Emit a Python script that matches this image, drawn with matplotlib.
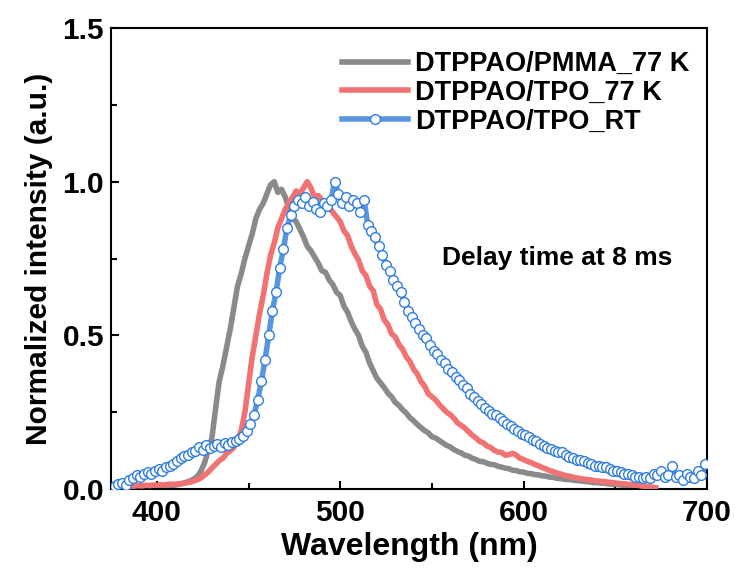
import numpy as np
import matplotlib
matplotlib.use("Agg")
import matplotlib.pyplot as plt

plt.rcParams['font.family'] = ['Liberation Sans', 'DejaVu Sans']
plt.rcParams['font.weight'] = 'bold'

# ---- data ----
wl_pmma = np.arange(380, 662, 2)
int_pmma = [0.004, 0.005, 0.004, 0.006, 0.005, 0.006, 0.007, 0.006, 0.008, 0.007,
            0.009, 0.008, 0.010, 0.011, 0.010, 0.013, 0.015, 0.018, 0.022, 0.026,
            0.032, 0.040, 0.058, 0.085, 0.125, 0.165, 0.260, 0.350, 0.400, 0.460,
            0.520, 0.590, 0.660, 0.700, 0.750, 0.790, 0.830, 0.880, 0.910, 0.930,
            0.960, 0.990, 1.000, 0.965, 0.975, 0.950, 0.915, 0.880, 0.870, 0.845,
            0.820, 0.790, 0.775, 0.755, 0.735, 0.710, 0.705, 0.680, 0.665, 0.640,
            0.630, 0.595, 0.575, 0.545, 0.520, 0.500, 0.465, 0.445, 0.410, 0.385,
            0.360, 0.345, 0.330, 0.312, 0.300, 0.282, 0.272, 0.258, 0.247, 0.232,
            0.222, 0.210, 0.200, 0.190, 0.183, 0.170, 0.166, 0.158, 0.150, 0.142,
            0.137, 0.128, 0.122, 0.117, 0.110, 0.107, 0.100, 0.096, 0.090, 0.089,
            0.084, 0.080, 0.079, 0.074, 0.071, 0.068, 0.066, 0.061, 0.060, 0.056,
            0.055, 0.051, 0.050, 0.047, 0.046, 0.043, 0.042, 0.039, 0.038, 0.035,
            0.034, 0.032, 0.031, 0.030, 0.028, 0.027, 0.026, 0.024, 0.023, 0.021,
            0.021, 0.019, 0.019, 0.017, 0.016, 0.015, 0.014, 0.012, 0.011, 0.010,
            0.009]

wl_tpo77 = np.arange(386, 674, 2)
int_tpo77 = [0.008, 0.010, 0.011, 0.010, 0.012, 0.011, 0.013, 0.012, 0.014, 0.013,
             0.015, 0.016, 0.015, 0.017, 0.018, 0.020, 0.022, 0.026, 0.030, 0.036,
             0.045, 0.055, 0.068, 0.080, 0.092, 0.100, 0.115, 0.125, 0.135, 0.160,
             0.190, 0.250, 0.340, 0.430, 0.500, 0.570, 0.630, 0.700, 0.760, 0.800,
             0.850, 0.880, 0.910, 0.930, 0.950, 0.970, 0.960, 0.980, 1.000, 0.980,
             0.950, 0.955, 0.940, 0.920, 0.915, 0.900, 0.885, 0.870, 0.840, 0.825,
             0.790, 0.765, 0.745, 0.710, 0.695, 0.660, 0.645, 0.600, 0.585, 0.550,
             0.535, 0.505, 0.495, 0.470, 0.455, 0.430, 0.415, 0.390, 0.375, 0.350,
             0.335, 0.310, 0.300, 0.290, 0.275, 0.262, 0.250, 0.242, 0.230, 0.215,
             0.207, 0.198, 0.186, 0.175, 0.166, 0.155, 0.150, 0.140, 0.135, 0.126,
             0.120, 0.119, 0.110, 0.112, 0.116, 0.110, 0.100, 0.096, 0.090, 0.086,
             0.080, 0.076, 0.070, 0.066, 0.060, 0.057, 0.052, 0.049, 0.045, 0.043,
             0.040, 0.037, 0.035, 0.033, 0.031, 0.030, 0.028, 0.026, 0.025, 0.024,
             0.022, 0.021, 0.020, 0.018, 0.017, 0.016, 0.015, 0.013, 0.012, 0.010,
             0.009, 0.008, 0.006, 0.004]

wl_rt = np.arange(377, 701, 2)
int_rt = [0.010, 0.015, 0.020, 0.012, 0.030, 0.035, 0.045, 0.040, 0.050, 0.055,
          0.048, 0.060, 0.066, 0.058, 0.070, 0.076, 0.082, 0.090, 0.100, 0.106,
          0.112, 0.121, 0.125, 0.136, 0.128, 0.142, 0.134, 0.140, 0.146, 0.138,
          0.150, 0.144, 0.152, 0.156, 0.162, 0.172, 0.190, 0.212, 0.240, 0.290,
          0.350, 0.420, 0.500, 0.580, 0.640, 0.720, 0.780, 0.850, 0.890, 0.920,
          0.940, 0.930, 0.950, 0.920, 0.935, 0.910, 0.900, 0.930, 0.920, 0.940,
          1.000, 0.960, 0.930, 0.950, 0.920, 0.940, 0.930, 0.900, 0.940, 0.860,
          0.840, 0.820, 0.790, 0.760, 0.730, 0.710, 0.680, 0.660, 0.640, 0.610,
          0.580, 0.560, 0.540, 0.520, 0.500, 0.490, 0.470, 0.450, 0.440, 0.420,
          0.410, 0.390, 0.380, 0.365, 0.355, 0.340, 0.330, 0.310, 0.300, 0.285,
          0.275, 0.265, 0.255, 0.245, 0.240, 0.230, 0.220, 0.210, 0.205, 0.195,
          0.190, 0.180, 0.175, 0.170, 0.160, 0.155, 0.145, 0.140, 0.135, 0.130,
          0.125, 0.120, 0.120, 0.110, 0.105, 0.100, 0.095, 0.095, 0.090, 0.085,
          0.080, 0.075, 0.075, 0.070, 0.070, 0.065, 0.060, 0.060, 0.055, 0.050,
          0.050, 0.045, 0.040, 0.040, 0.035, 0.040, 0.035, 0.050, 0.045, 0.060,
          0.040, 0.045, 0.075, 0.040, 0.045, 0.030, 0.050, 0.040, 0.035, 0.060,
          0.045, 0.080]

labels = ['DTPPAO/PMMA_77 K', 'DTPPAO/TPO_77 K', 'DTPPAO/TPO_RT']
xticks = [400, 500, 600, 700]
yticks = [0.0, 0.5, 1.0, 1.5]

# ---- figure ----
L, R, T, B = 111, 707, 28, 489
fig = plt.figure(figsize=(7.35, 5.69), dpi=100)
ax = fig.add_axes([L/735, 1-B/569, (R-L)/735, (B-T)/569])

ax.plot(wl_pmma, int_pmma, color='#8a8a8a', lw=4.0, label=labels[0], zorder=2)
ax.plot(wl_tpo77, int_tpo77, color='#f07272', lw=4.0, label=labels[1], zorder=3)
ax.plot(wl_rt, int_rt, color='#5a96e0', lw=4.0, marker='o', ms=7,
        mfc='white', mec='#2f7de0', mew=1.0, label=labels[2], zorder=4)

ax.set_xlim(375, 700)
ax.set_ylim(0, 1.5)
ax.set_xticks(xticks)
ax.set_yticks(yticks)
ax.set_xticks([450, 550, 650], minor=True)
ax.set_yticks([0.25, 0.75, 1.25], minor=True)
ax.tick_params(which='both', direction='in', width=1.5, labelsize=21.5, top=False, right=False)
ax.tick_params(which='major', length=6)
ax.tick_params(which='minor', length=4)
ax.tick_params(axis='y', pad=5)
ax.tick_params(axis='x', pad=7)
for s in ax.spines.values():
    s.set_linewidth(1.5)

ax.set_xlabel('Wavelength (nm)', fontsize=23, fontweight='bold', labelpad=4)
ax.set_ylabel('Normalized intensity (a.u.)', fontsize=21.5, fontweight='bold', labelpad=7)

leg = ax.legend(loc='upper left', bbox_to_anchor=((342-L)/(R-L), (B-51)/(B-T)),
                frameon=False, fontsize=19.5, handlelength=2.45, handletextpad=0.25,
                labelspacing=0.1, borderaxespad=0, borderpad=0)

ax.text((442-L)/(R-L), (B-265.5)/(B-T), 'Delay time at 8 ms', transform=ax.transAxes,
        ha='left', va='baseline', fontsize=19, fontweight='bold')

fig.savefig('out.png', dpi=100)
